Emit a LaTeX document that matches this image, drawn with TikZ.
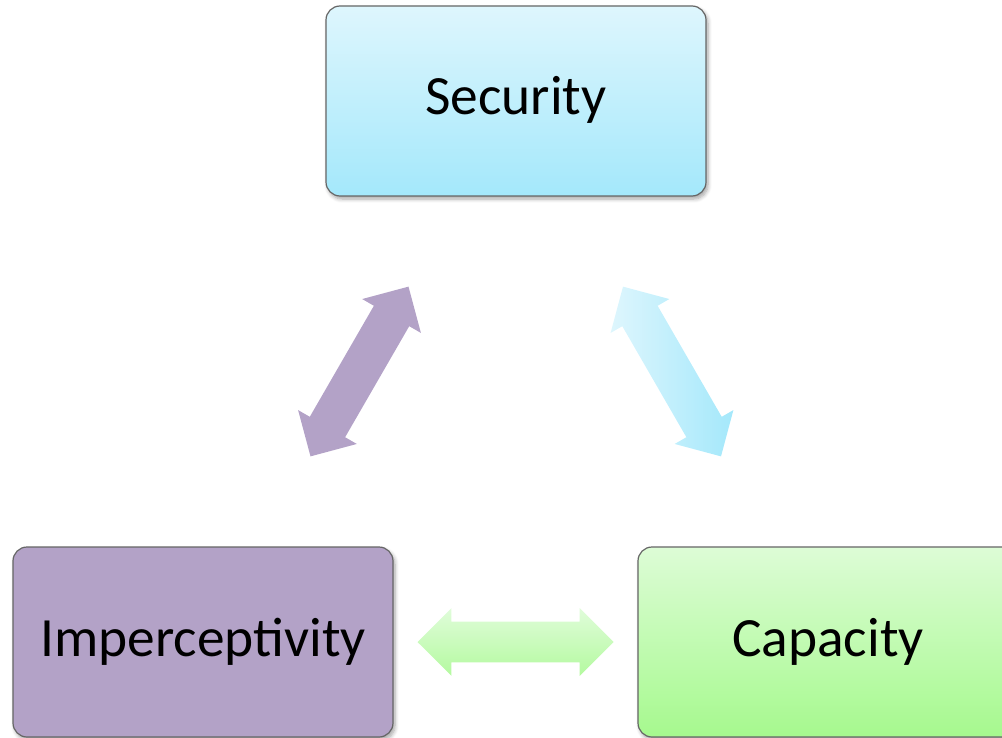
\documentclass[tikz,border=0pt]{standalone}
\usepackage{fontspec}
\setmainfont{Carlito}
\usetikzlibrary{calc,shapes.arrows,shadows.blur}

\definecolor{secTop}{RGB}{222,246,253}
\definecolor{secBot}{RGB}{164,232,251}
\definecolor{capTop}{RGB}{221,252,214}
\definecolor{capBot}{RGB}{166,249,142}
\definecolor{impFill}{RGB}{179,162,199}

\begin{document}
\begin{tikzpicture}[x=0.5pt, y=-0.5pt,
    box/.style={draw=black!60, line width=0.6pt, rounded corners=7pt,
        minimum width=190pt, minimum height=95pt,
        text height=20pt, text depth=6pt,
        font=\fontsize{27.7}{33}\selectfont,
        blur shadow={shadow xshift=1pt, shadow yshift=-1.5pt, shadow blur steps=6, shadow opacity=35}},
    twoway/.style={double arrow, minimum height=98pt, minimum width=33pt,
        double arrow head extend=6.75pt, double arrow tip angle=90,
        inner xsep=0pt, inner ysep=10pt}]
\useasboundingbox (0,0) rectangle (1002,738);

% the three boxes
\node[box, top color=secTop, bottom color=secBot] (sec) at (516,101) {Security};
\node[box, fill=impFill] (imp) at (203,642) {Imperceptivity};
\node[box, top color=capTop, bottom color=capBot] (cap) at (828,642) {Capacity};

% two-way arrows half way between the boxes
\node[twoway, fill=impFill, rotate=60] (secimp) at ($(sec)!0.5!(imp)$) {};
\node[twoway, left color=secTop, right color=secBot, rotate=-60] (seccap) at ($(sec)!0.5!(cap)$) {};
\node[twoway, top color=capTop!90!white, bottom color=capBot!85!white] (impcap) at ($(imp)!0.5!(cap)$) {};
\end{tikzpicture}
\end{document}
